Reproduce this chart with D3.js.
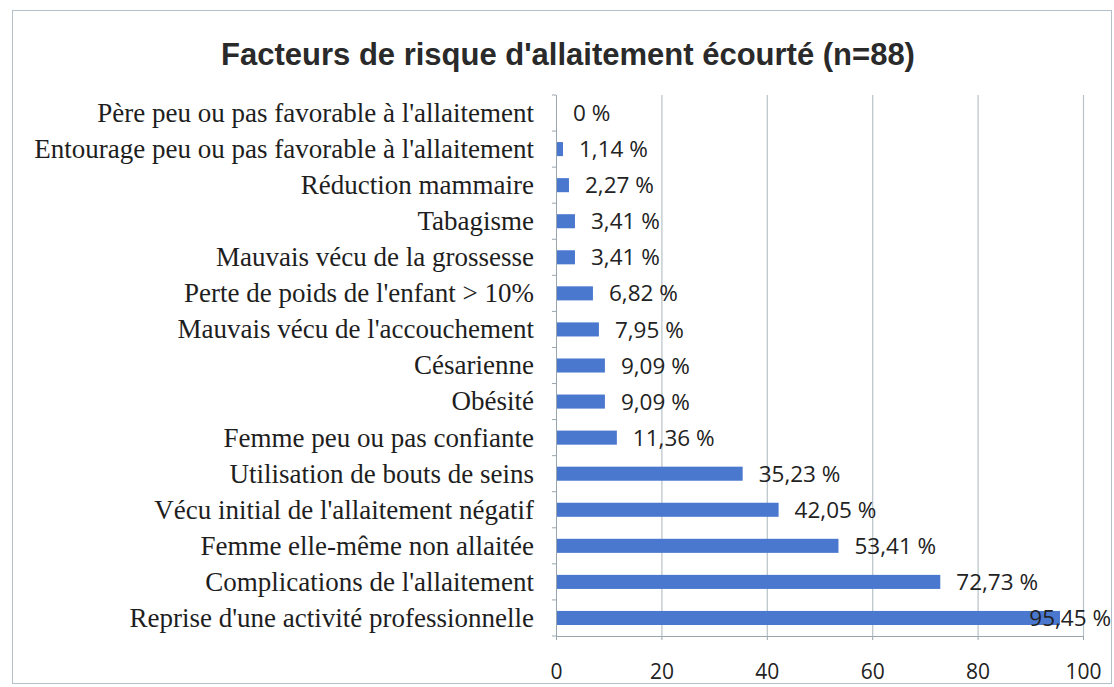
<!DOCTYPE html>
<html>
<head>
<meta charset="utf-8">
<script src="https://cdn.jsdelivr.net/npm/d3@7"></script>
<style>
  body { margin: 0; background: #fff; }
</style>
</head>
<body>
<div class="chart"></div>
<script>
let categories = [
  "Père peu ou pas favorable à l'allaitement",
  "Entourage peu ou pas favorable à l'allaitement",
  "Réduction mammaire",
  "Tabagisme",
  "Mauvais vécu de la grossesse",
  "Perte de poids de l'enfant > 10%",
  "Mauvais vécu de l'accouchement",
  "Césarienne",
  "Obésité",
  "Femme peu ou pas confiante",
  "Utilisation de bouts de seins",
  "Vécu initial de l'allaitement négatif",
  "Femme elle-même non allaitée",
  "Complications de l'allaitement",
  "Reprise d'une activité professionnelle"
]
let values = [0, 1.14, 2.27, 3.41, 3.41, 6.82, 7.95, 9.09, 9.09, 11.36, 35.23, 42.05, 53.41, 72.73, 95.45]
let tickValues = [0, 20, 40, 60, 80, 100]

let width = 1114
let height = 687
let plotLeft = 556, plotRight = 1083, plotTop = 95, plotBottom = 636

let svg = d3.select('.chart')
            .append('svg')
            .attr('width', width)
            .attr('height', height)

// frame
svg.append('rect')
   .attr('x', 12.5).attr('y', 10.5)
   .attr('width', 1099).attr('height', 673)
   .attr('fill', 'none')
   .attr('stroke', '#b4c0c8')

svg.append('text')
   .attr('x', 568)
   .attr('y', 65)
   .attr('text-anchor', 'middle')
   .attr('font-family', 'Liberation Sans, Arial, sans-serif')
   .attr('font-weight', 'bold')
   .attr('font-size', 31)
   .attr('fill', '#2a2a2a')
   .text("Facteurs de risque d'allaitement écourté (n=88)")

let xScale = d3.scaleLinear()
               .domain([0, 100])
               .range([plotLeft, plotRight])

let yScale = d3.scaleBand()
               .domain(categories)
               .range([plotTop, plotBottom])
               .paddingInner(0.61)
               .paddingOuter(0.305)

// vertical gridlines
svg.selectAll('.grid')
   .data(tickValues.slice(1))
   .enter()
   .append('line')
   .attr('x1', d => xScale(d) + 0.5)
   .attr('x2', d => xScale(d) + 0.5)
   .attr('y1', plotTop)
   .attr('y2', plotBottom)
   .attr('stroke', '#b8c2c8')
   .attr('stroke-width', 1.2)

// x axis
let xAxis = d3.axisBottom(xScale)
              .tickValues(tickValues)
              .tickSize(4)
              .tickPadding(24)

let gx = svg.append('g')
   .attr('transform', `translate(0, ${plotBottom})`)
   .call(xAxis)
gx.select('.domain').attr('stroke', '#9aa6ae')
gx.selectAll('.tick line').attr('stroke', '#9aa6ae')
gx.selectAll('.tick text')
  .attr('font-family', 'Open Sans, sans-serif')
  .attr('font-size', 21)
  .attr('fill', '#222')

// y axis line + boundary ticks
svg.append('line')
   .attr('x1', plotLeft + 0.5).attr('x2', plotLeft + 0.5)
   .attr('y1', plotTop).attr('y2', plotBottom)
   .attr('stroke', '#9aa6ae')

let step = yScale.step()
d3.range(categories.length + 1).forEach(i => {
  svg.append('line')
     .attr('x1', plotLeft - 4).attr('x2', plotLeft)
     .attr('y1', plotTop + i * step).attr('y2', plotTop + i * step)
     .attr('stroke', '#9aa6ae')
})

// bars
svg.selectAll('.bar')
   .data(values)
   .enter()
   .append('rect')
   .attr('x', xScale(0) + 1)
   .attr('y', (d, i) => yScale(categories[i]))
   .attr('width', d => Math.max(0, xScale(d) - xScale(0)))
   .attr('height', yScale.bandwidth())
   .attr('fill', '#4a78cf')

// category labels
categories.forEach(c => {
  svg.append('text')
     .attr('x', 534)
     .attr('y', yScale(c) + yScale.bandwidth() / 2)
     .attr('dy', '0.33em')
     .attr('text-anchor', 'end')
     .attr('font-family', 'Liberation Serif, Times New Roman, serif')
     .attr('font-size', 27)
     .attr('fill', '#1e1e1e')
     .text(c)
})

// value labels
values.forEach((d, i) => {
  let t = svg.append('text')
     .attr('y', yScale(categories[i]) + yScale.bandwidth() / 2)
     .attr('dy', '0.36em')
     .attr('font-family', 'Open Sans, sans-serif')
     .attr('font-size', 22.5)
     .attr('fill', '#222')
     .text(d3.format('.2f')(d).replace('.', ',').replace(/,00$/, '') + ' %')
  let w = t.node().getComputedTextLength()
  t.attr('x', Math.min(xScale(d) + 17, 1111 - w))
})
</script>
</body>
</html>
